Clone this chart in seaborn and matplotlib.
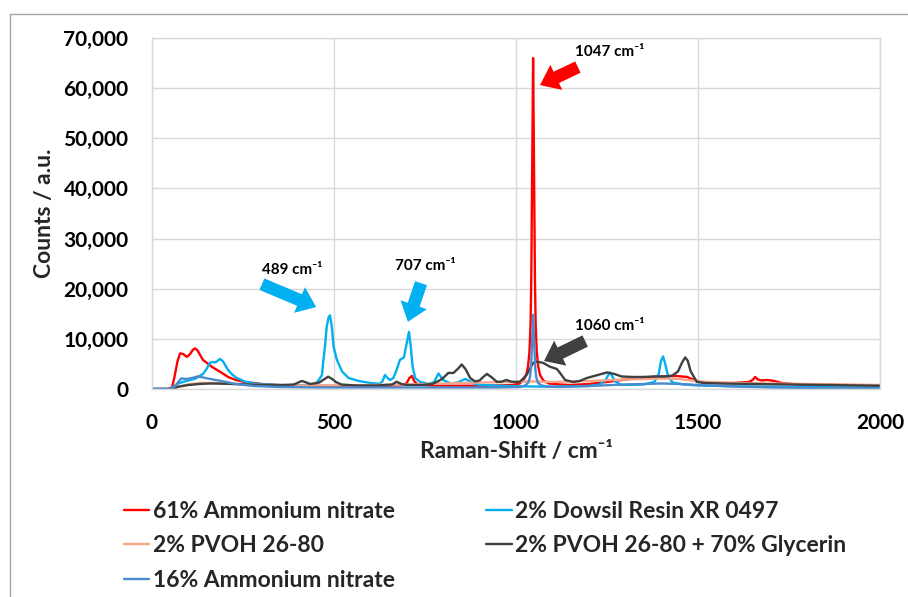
import matplotlib
matplotlib.use("Agg")
import matplotlib.pyplot as plt
from matplotlib.lines import Line2D
from matplotlib.ticker import StrMethodFormatter, MultipleLocator
import seaborn as sns
import pandas as pd

# ---- Raman spectra (shift in cm^-1, counts) ----
an61_x = [0, 40, 55, 62, 70, 77, 85, 96, 105, 112, 118, 125, 140, 165, 190, 209, 230, 255, 302, 350,
          400, 450, 500, 550, 600, 650, 690, 700, 707, 714, 720, 730, 760, 800, 850, 900, 950, 990,
          1010, 1020, 1028, 1033, 1037, 1040, 1042, 1044, 1047, 1050, 1052, 1054, 1057, 1061, 1066,
          1075, 1090, 1120, 1150, 1200, 1250, 1300, 1350, 1400, 1440, 1470, 1490, 1510, 1550, 1600,
          1640, 1650, 1657, 1664, 1675, 1690, 1710, 1730, 1760, 1800, 1900, 2000]
an61_y = [0, 0, 300, 2500, 5500, 7100, 7000, 6400, 7000, 7800, 8100, 7700, 5800, 4400, 3300, 2400,
          1800, 1400, 1000, 800, 700, 650, 600, 600, 600, 650, 800, 1200, 2200, 2600, 1600, 900, 700,
          650, 650, 650, 700, 800, 1100, 1700, 2800, 4500, 7500, 13000, 22000, 40000, 66000, 40000,
          22000, 13000, 7500, 4500, 2800, 1700, 1100, 900, 800, 1000, 1400, 1900, 2300, 2500, 2600,
          2400, 1800, 1300, 1200, 1200, 1400, 1800, 2400, 1900, 1700, 1800, 1600, 1200, 1000, 900,
          800, 700]

dowsil_x = [0, 50, 60, 75, 100, 120, 140, 150, 159, 166, 173, 180, 187, 195, 209, 220, 233, 255, 280,
            302, 350, 400, 430, 450, 458, 467, 470, 475, 480, 485, 489, 494, 499, 508, 522, 540, 568,
            600, 625, 633, 640, 647, 654, 663, 672, 681, 692, 700, 706, 711, 716, 723, 736, 760, 775,
            787, 800, 820, 840, 860, 875, 890, 950, 1000, 1100, 1200, 1230, 1245, 1252, 1258, 1264,
            1272, 1290, 1350, 1380, 1392, 1398, 1404, 1410, 1418, 1430, 1460, 1500, 1600, 1700, 1800,
            1900, 2000]
dowsil_y = [0, 0, 500, 1200, 1700, 2100, 3000, 4000, 5200, 5400, 5300, 5600, 6000, 5500, 3800, 2900,
            2200, 1500, 1100, 950, 800, 750, 800, 1000, 1800, 2800, 5200, 8400, 12400, 14300, 14700,
            12400, 8400, 5800, 3500, 2200, 1600, 1200, 1050, 1500, 2800, 2200, 1800, 2200, 3800, 5800,
            6300, 9200, 11400, 8400, 4400, 2200, 1450, 1000, 1400, 3100, 1800, 1100, 1300, 2000, 1500,
            900, 650, 550, 450, 600, 900, 1700, 2600, 3300, 2600, 1500, 800, 900, 1400, 3000, 5500,
            6500, 5000, 2500, 1300, 900, 700, 550, 450, 380, 320, 280]

pvoh_x = [0, 50, 70, 100, 130, 170, 220, 300, 400, 500, 600, 700, 800, 900, 1000, 1047, 1100, 1200,
          1300, 1400, 1450, 1500, 1600, 1700, 1800, 2000]
pvoh_y = [0, 0, 400, 900, 1200, 1200, 1000, 800, 700, 700, 800, 900, 1100, 1300, 1400, 1500, 1400,
          1600, 1900, 2100, 2000, 1500, 1200, 1100, 1000, 800]

glyc_x = [0, 50, 60, 75, 100, 130, 160, 200, 250, 300, 350, 390, 405, 412, 420, 435, 460, 472, 484,
          495, 505, 520, 560, 620, 660, 672, 685, 700, 740, 770, 790, 800, 814, 828, 840, 851, 862,
          874, 888, 900, 910, 920, 932, 947, 960, 974, 985, 997, 1011, 1029, 1047, 1057, 1075, 1093,
          1112, 1121, 1135, 1157, 1175, 1195, 1220, 1250, 1270, 1290, 1320, 1350, 1380, 1410, 1430,
          1445, 1457, 1465, 1472, 1480, 1497, 1520, 1560, 1650, 1750, 1850, 2000]
glyc_y = [0, 0, 200, 500, 800, 1000, 1100, 1050, 950, 800, 750, 900, 1400, 1600, 1400, 1000, 1300,
          1900, 2450, 2000, 1400, 900, 700, 700, 900, 1450, 1000, 800, 800, 1000, 1700, 2200, 3200,
          3200, 4000, 4900, 3900, 2200, 1500, 1700, 2400, 3000, 2400, 1450, 1450, 1800, 1500, 1400,
          1450, 2800, 5200, 5450, 5200, 4450, 4000, 3200, 1800, 1400, 1600, 2200, 2700, 3300, 3000,
          2500, 2400, 2400, 2500, 2500, 2700, 3500, 5400, 6300, 5600, 3500, 1400, 1200, 1100, 1000,
          900, 800, 650]

an16_x = [0, 50, 60, 70, 80, 95, 110, 125, 140, 160, 190, 230, 280, 350, 450, 600, 800, 950, 1010,
          1025, 1033, 1038, 1041, 1044, 1047, 1050, 1053, 1056, 1061, 1070, 1085, 1120, 1200, 1300,
          1400, 1450, 1500, 1600, 1700, 1800, 1900, 2000]
an16_y = [0, 0, 300, 1200, 2100, 2000, 2200, 2500, 2300, 2000, 1600, 1000, 600, 400, 300, 300, 300,
          300, 400, 700, 1200, 2200, 4000, 9000, 14800, 9000, 4000, 2200, 1200, 700, 500, 400, 600,
          900, 1100, 1000, 800, 500, 300, 200, 150, 100]

series_names = ["61% Ammonium nitrate", "2% Dowsil Resin XR 0497", "2% PVOH 26-80",
                "2% PVOH 26-80 + 70% Glycerin", "16% Ammonium nitrate"]
series_x = [an61_x, dowsil_x, pvoh_x, glyc_x, an16_x]
series_y = [an61_y, dowsil_y, pvoh_y, glyc_y, an16_y]
series_colors = ["#FF0000", "#00B0F0", "#F8A488", "#404040", "#4A8BD0"]

x_ticks = [0, 500, 1000, 1500, 2000]

sns.set_theme(style="white")
plt.rcParams["font.family"] = ["Lato", "DejaVu Sans"]
plt.rcParams["font.weight"] = "bold"

fig = plt.figure(figsize=(9.08, 5.97), dpi=100)
ax = fig.add_axes([152 / 908, 1 - 389 / 597, (880 - 152) / 908, (389 - 38) / 597])

for name, xs, ys, col in zip(series_names, series_x, series_y, series_colors):
    df = pd.DataFrame({"x": xs, "y": ys})
    sns.lineplot(data=df, x="x", y="y", color=col, lw=1.7, ax=ax,
                 estimator=None, sort=False, label=name, legend=False)

ax.set_xlim(0, 2000)
ax.set_ylim(0, 70000)
ax.set_xticks(x_ticks)
ax.yaxis.set_major_locator(MultipleLocator(10000))
ax.yaxis.set_major_formatter(StrMethodFormatter("{x:,.0f}"))
ax.grid(True, color="#D9D9D9", lw=1.0)
ax.set_axisbelow(True)
for sp in ax.spines.values():
    sp.set_color("#D9D9D9")
    sp.set_linewidth(1.0)
ax.tick_params(axis="both", length=0, labelsize=15, pad=17, labelcolor="black")
for lab in ax.get_xticklabels() + ax.get_yticklabels():
    lab.set_fontweight("bold")

ax.set_xlabel("Raman-Shift / cm\u207b\u00b9", fontsize=16.5, fontweight="bold", labelpad=6)
ax.set_ylabel("Counts / a.u.", fontsize=16.5, fontweight="bold", labelpad=6)

# peak annotations with block arrows
def mark(text, xy_text, tail, tip, color):
    ax.text(xy_text[0], xy_text[1], text, ha="center", va="center",
            fontsize=11, fontweight="bold", color="black")
    ax.annotate("", xy=tip, xytext=tail,
                arrowprops=dict(arrowstyle="simple,head_length=1.3,head_width=2.0,tail_width=0.9",
                                mutation_scale=10, color=color, shrinkA=0, shrinkB=0, lw=0))

mark("1047 cm\u207b\u00b9", (1257, 67200), (1170, 64200), (1066, 60600), "#FF0000")
mark("489 cm\u207b\u00b9", (385, 23700), (302, 20900), (451, 16350), "#00B0F0")
mark("707 cm\u207b\u00b9", (750, 24500), (739, 21100), (703, 13400), "#00B0F0")
mark("1060 cm\u207b\u00b9", (1258, 12560), (1190, 9570), (1077, 5580), "#404040")

# legend laid out row by row, two columns
handles = {n: Line2D([], [], color=c, lw=1.7) for n, c in zip(series_names, series_colors)}
order = [series_names[0], series_names[2], series_names[4], series_names[1], series_names[3]]
leg = fig.legend([handles[n] for n in order], order, loc="upper left",
                 bbox_to_anchor=(124 / 908, 1 - 501 / 597), ncol=2, frameon=False,
                 fontsize=16.5, handlelength=1.1, handletextpad=0.15, columnspacing=4.0,
                 labelspacing=0.58, borderpad=0, borderaxespad=0)
for t in leg.get_texts():
    t.set_fontweight("bold")

# chart area frame
fig.add_artist(Line2D([10 / 908, 1], [1 - 14 / 597, 1 - 14 / 597], color="#A6A6A6", lw=1.0))
fig.add_artist(Line2D([10 / 908, 10 / 908], [0, 1 - 14 / 597], color="#A6A6A6", lw=1.0))

fig.savefig("out.png", dpi=100)
